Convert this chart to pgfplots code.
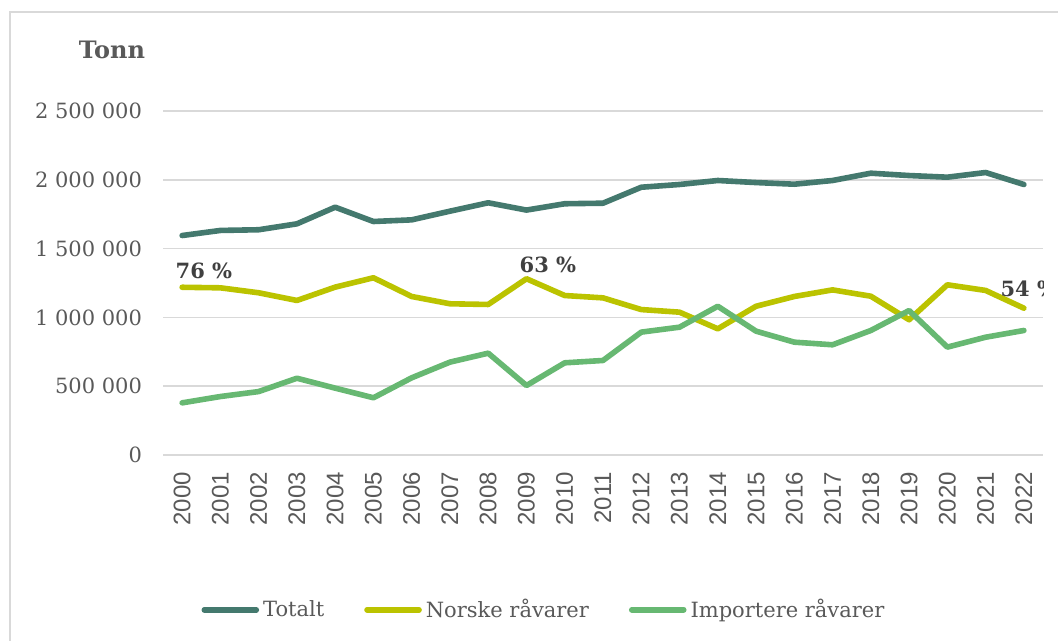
\documentclass[border=0pt]{standalone}
\usepackage{pgfplots}
\usepackage{pgfplotstable}
\pgfplotsset{compat=1.18}
\usepackage{fontspec}
\setmainfont{DejaVu Serif}
\setsansfont{Liberation Sans}

\definecolor{totcol}{HTML}{44796E}
\definecolor{norcol}{HTML}{BBC300}
\definecolor{impcol}{HTML}{67B872}
\definecolor{gridcol}{HTML}{D9D9D9}
\definecolor{tickcol}{HTML}{595959}
\definecolor{labcol}{HTML}{404040}

% year, totalt, norske, importerte (tonn)
\pgfplotstableread{
year tot nor imp
2000 1595000 1219000 379000
2001 1632000 1215000 425000
2002 1637000 1179000 461000
2003 1680000 1123000 558000
2004 1801000 1220000 486000
2005 1697000 1288000 416000
2006 1709000 1152000 561000
2007 1772000 1099000 675000
2008 1833000 1094000 740000
2009 1780000 1281000 505000
2010 1826000 1159000 670000
2011 1830000 1142000 687000
2012 1946000 1057000 893000
2013 1966000 1038000 929000
2014 1995000 917000 1081000
2015 1980000 1081000 900000
2016 1968000 1152000 820000
2017 1995000 1200000 801000
2018 2048000 1154000 905000
2019 2031000 983000 1050000
2020 2019000 1237000 784000
2021 2053000 1196000 856000
2022 1966000 1067000 905000
}\datatable

\begin{document}
\begin{tikzpicture}
\clip (0,0) rectangle (529pt,-320.5pt);
\draw[gridcol, line width=0.75pt] (5pt,-6pt) rectangle (545pt,-330pt);
\node[font=\bfseries\fontsize{12}{14}\selectfont, text=tickcol] at (56pt,-25pt) {Tonn};
\begin{axis}[
    at={(81.5pt,-227.5pt)}, anchor=south west,
    scale only axis, width=440pt, height=172pt,
    xmin=1999.5, xmax=2022.5, ymin=0, ymax=2500000,
    scaled y ticks=false,
    xtick={2000,...,2022},
    ytick={0,500000,1000000,1500000,2000000,2500000},
    yticklabels={0,500 000,1 000 000,1 500 000,2 000 000,2 500 000},
    axis line style={draw=none}, tick style={draw=none},
    ymajorgrids, grid style={gridcol, line width=0.75pt},
    yticklabel style={font=\fontsize{10.5}{12}\selectfont, text=tickcol, xshift=-7pt},
    xticklabel style={anchor=east, rotate=90, xshift=-5pt, font=\sffamily\fontsize{12}{13}\selectfont,
        text=tickcol,
        /pgf/number format/1000 sep=, /pgf/number format/assume math mode=true},
    legend style={at={(0.434,-0.45)}, anchor=center, draw=none, fill=none,
        legend columns=3, font=\fontsize{10.5}{12}\selectfont, text=tickcol,
        /tikz/every even column/.append style={column sep=18pt},
        inner sep=0pt},
    legend cell align=left,
    legend image code/.code={\draw[#1, line cap=round] (0pt,0pt) -- (26pt,0pt);},
    every axis plot/.append style={line width=2.8pt, line join=round, line cap=round, no markers},
]
\addplot[totcol] table[x=year, y=tot] {\datatable};
\addlegendentry{Totalt}
\addplot[norcol] table[x=year, y=nor] {\datatable};
\addlegendentry{Norske råvarer}
\addplot[impcol] table[x=year, y=imp] {\datatable};
\addlegendentry{Importere råvarer}

\node[font=\bfseries\fontsize{10.5}{12}\selectfont, text=labcol] at (axis cs:2000.57,1341000) {76 \%};
\node[font=\bfseries\fontsize{10.5}{12}\selectfont, text=labcol] at (axis cs:2009.56,1384500) {63 \%};
\node[font=\bfseries\fontsize{10.5}{12}\selectfont, text=labcol, anchor=west, inner sep=0pt] at (axis cs:2021.38,1210000) {54 \%};
\end{axis}
\end{tikzpicture}
\end{document}
